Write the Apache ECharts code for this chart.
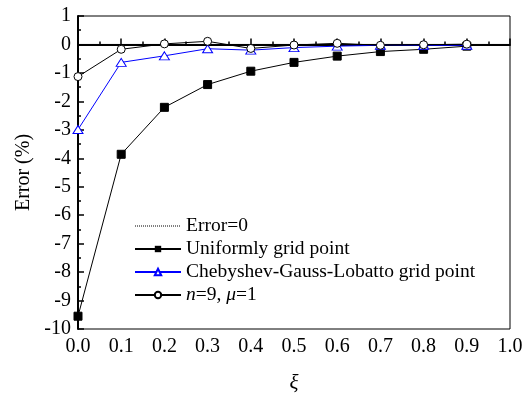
<!DOCTYPE html>
<html>
<head>
<meta charset="utf-8">
<script src="https://cdn.jsdelivr.net/npm/echarts@6/dist/echarts.min.js"></script>
<style>
  html, body { margin: 0; padding: 0; background: #fff; }
  #chart { width: 526px; height: 399px; }
</style>
</head>
<body>
<div id="chart"></div>
<script>
// x positions (xi)
var xiList = [0.0, 0.1, 0.2, 0.3, 0.4, 0.5, 0.6, 0.7, 0.8, 0.9];
// error (%) per series
var uniformList = [-9.55, -3.86, -2.21, -1.41, -0.94, -0.63, -0.41, -0.25, -0.17, -0.06];
var chebyList = [-2.99, -0.63, -0.40, -0.15, -0.20, -0.11, -0.06, -0.03, -0.03, -0.03];
var n9List = [-1.13, -0.17, 0.02, 0.11, -0.14, -0.02, 0.04, -0.03, -0.01, 0.01];
var zeroX = [0, 1];
var zeroY = [0, 0];

function pairs(xs, ys) {
  return xs.map(function (x, i) { return [x, ys[i]]; });
}

var chart = echarts.init(document.getElementById('chart'));
var font = 'Liberation Serif';
var option = {
  animation: false,
  textStyle: { fontFamily: font },
  grid: {
    left: 78, right: 16, top: 16, bottom: 63,
    show: true, borderColor: '#000', borderWidth: 1
  },
  legend: {
    left: 129, top: 211,
    orient: 'vertical',
    itemWidth: 46, itemHeight: 8, itemGap: 3,
    textStyle: { fontFamily: font, fontSize: 19.5, color: '#000',
      rich: { i: { fontFamily: font, fontSize: 19.5, fontStyle: 'italic' } } },
    formatter: function (name) {
      if (name === 'n9') return '{i|n}=9, {i|μ}=1';
      return name;
    },
    data: [
      { name: 'Error=0', lineStyle: { type: 'dotted', width: 1 },
        itemStyle: { color: 'rgba(0,0,0,0)', borderColor: 'rgba(0,0,0,0)' } },
      'Uniformly grid point',
      'Chebyshev-Gauss-Lobatto grid point',
      'n9'
    ]
  },
  xAxis: {
    type: 'value', min: 0, max: 1, interval: 0.1,
    name: 'ξ', nameLocation: 'middle', nameGap: 44,
    nameTextStyle: { fontFamily: font, fontSize: 21, fontStyle: 'italic', color: '#000' },
    axisLine: { show: true, lineStyle: { color: '#000', width: 2 } },
    axisTick: { show: true, inside: true, length: 6, lineStyle: { color: '#000', width: 1.5 } },
    minorTick: { show: true, splitNumber: 2, length: 3, lineStyle: { color: '#000', width: 1.5 } },
    splitLine: { show: false },
    axisLabel: { color: '#000', fontSize: 20, margin: 8,
      formatter: function (v) { return v.toFixed(1); } }
  },
  yAxis: {
    type: 'value', min: -10, max: 1, interval: 1,
    name: 'Error (%)', nameLocation: 'middle', nameGap: 44,
    nameTextStyle: { fontFamily: font, fontSize: 20, color: '#000' },
    axisLine: { show: true, lineStyle: { color: '#000', width: 2 } },
    axisTick: { show: true, inside: true, length: 6, lineStyle: { color: '#000', width: 1.5 } },
    minorTick: { show: true, splitNumber: 2, length: 3, lineStyle: { color: '#000', width: 1.5 } },
    splitLine: { show: false },
    axisLabel: { color: '#000', fontSize: 20, margin: 7 }
  },
  series: [
    {
      name: 'Error=0', type: 'line', data: pairs(zeroX, zeroY),
      symbol: 'none', lineStyle: { color: '#000', width: 1 },
      itemStyle: { color: '#000' }
    },
    {
      name: 'Uniformly grid point', type: 'line', data: pairs(xiList, uniformList),
      symbol: 'rect', symbolSize: 8, z: 3,
      lineStyle: { color: '#000', width: 1 },
      itemStyle: { color: '#000', borderColor: '#000' }
    },
    {
      name: 'Chebyshev-Gauss-Lobatto grid point', type: 'line', data: pairs(xiList, chebyList),
      symbol: 'triangle', symbolSize: [10, 8], z: 4,
      lineStyle: { color: '#0000ff', width: 1 },
      itemStyle: { color: '#fff', borderColor: '#0000ff', borderWidth: 1 }
    },
    {
      name: 'n9', type: 'line', data: pairs(xiList, n9List),
      symbol: 'circle', symbolSize: 8, z: 5,
      lineStyle: { color: '#000', width: 1 },
      itemStyle: { color: '#fff', borderColor: '#000', borderWidth: 1 }
    }
  ]
};
chart.setOption(option);
</script>
</body>
</html>
